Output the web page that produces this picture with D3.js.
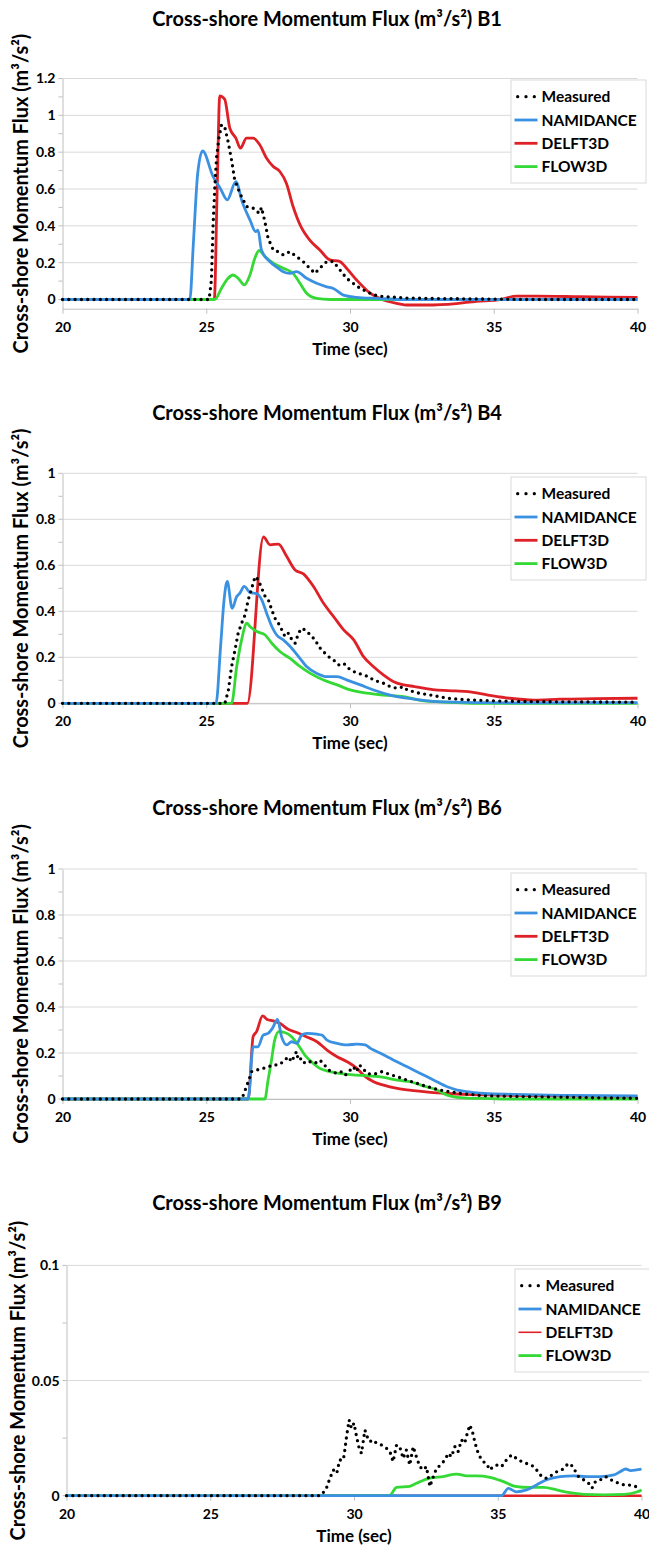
<!DOCTYPE html>
<html>
<head>
<meta charset="utf-8">
<script src="https://cdn.jsdelivr.net/npm/d3@7"></script>
<style>
  body { margin: 0; background: #fff; }
  svg { display: block; }
  text { font-family: Lato, "Open Sans", sans-serif; font-weight: 700; fill: #000; }
</style>
</head>
<body>
<svg id="chart" width="649" height="1548"></svg>
<script>
// ---- labels ----
const seriesNames = ["Measured", "NAMIDANCE", "DELFT3D", "FLOW3D"];
const stations = ["B1", "B4", "B6", "B9"];
const timeTicks = [20, 25, 30, 35, 40];
const fluxTicksB1 = [0, 0.2, 0.4, 0.6, 0.8, 1, 1.2];
const fluxTicksB4 = [0, 0.2, 0.4, 0.6, 0.8, 1];
const fluxTicksB6 = [0, 0.2, 0.4, 0.6, 0.8, 1];
const fluxTicksB9 = [0, 0.05, 0.1];

// ---- B1: [time (s), flux (m3/s2)] ----
const b1Measured = [[20,0],[25.1,0],[25.18,0.106],[25.24,0.414],[25.3,0.612],[25.36,0.776],[25.44,0.876],[25.53,0.948],[25.64,0.939],[25.76,0.857],[25.88,0.758],[25.99,0.649],[26.17,0.577],[26.4,0.505],[26.63,0.496],[26.75,0.478],[26.86,0.469],[26.92,0.5],[27.04,0.423],[27.15,0.333],[27.33,0.269],[27.5,0.26],[27.68,0.242],[27.91,0.26],[28.14,0.233],[28.37,0.206],[28.6,0.17],[28.78,0.142],[28.95,0.17],[29.19,0.206],[29.42,0.206],[29.65,0.161],[29.88,0.115],[30.11,0.088],[30.35,0.061],[30.58,0.043],[30.81,0.025],[31.16,0.016],[31.62,0.012],[31.95,0.008],[33,0.005],[35,0.002],[36,0],[40,0]];
const b1Namidance = [[20,0],[24.43,0],[24.55,0.3],[24.7,0.68],[24.87,0.807],[25.24,0.667],[25.5,0.6],[25.73,0.541],[26.03,0.64],[26.25,0.53],[26.52,0.432],[26.72,0.368],[26.8,0.377],[26.92,0.269],[27.21,0.206],[27.5,0.17],[27.68,0.151],[27.91,0.142],[28.14,0.151],[28.49,0.115],[28.84,0.088],[29.19,0.069],[29.42,0.06],[29.77,0.024],[30.23,0.012],[30.93,0.006],[31.85,0],[40,0]];
const b1Delft3d = [[20,0],[25.28,0],[25.38,0.6],[25.47,1.106],[25.64,1.088],[25.82,0.93],[26.03,0.876],[26.19,0.822],[26.4,0.876],[26.63,0.876],[26.86,0.84],[27.1,0.767],[27.33,0.722],[27.56,0.695],[27.79,0.63],[28.02,0.505],[28.32,0.387],[28.6,0.323],[28.95,0.269],[29.3,0.215],[29.65,0.206],[29.88,0.17],[30.23,0.106],[30.7,0.034],[31.16,-0.003],[31.63,-0.021],[32.03,-0.03],[32.67,-0.03],[33.7,-0.022],[34.4,-0.01],[35.1,-0.004],[35.8,0.018],[36.5,0.018],[38,0.015],[40,0.011]];
const b1Flow3d = [[20,0],[25.3,0],[25.53,0.061],[25.76,0.115],[25.93,0.133],[26.11,0.115],[26.32,0.079],[26.52,0.133],[26.69,0.224],[26.84,0.266],[27.04,0.233],[27.33,0.197],[27.68,0.17],[28.02,0.142],[28.26,0.088],[28.49,0.034],[28.84,0.006],[29.3,0],[40,0]];

// ---- B4 ----
const b4Measured = [[20,0],[25.65,0],[25.77,0.058],[25.88,0.159],[26.0,0.232],[26.11,0.305],[26.23,0.348],[26.35,0.384],[26.46,0.45],[26.58,0.5],[26.7,0.551],[26.81,0.537],[26.93,0.5],[27.05,0.464],[27.16,0.45],[27.28,0.406],[27.39,0.37],[27.51,0.348],[27.63,0.319],[27.74,0.29],[27.86,0.305],[27.98,0.276],[28.09,0.261],[28.21,0.305],[28.32,0.326],[28.44,0.319],[28.56,0.305],[28.67,0.29],[28.79,0.276],[28.91,0.247],[29.08,0.224],[29.25,0.203],[29.43,0.188],[29.6,0.167],[29.78,0.174],[29.95,0.152],[30.13,0.138],[30.3,0.13],[30.47,0.123],[30.65,0.116],[30.82,0.101],[31.0,0.094],[31.17,0.087],[31.41,0.072],[31.64,0.065],[31.87,0.072],[31.99,0.058],[32.4,0.044],[32.8,0.036],[33.4,0.022],[34.1,0.015],[35.1,0.01],[36.5,0.007],[40,0.005]];
const b4Namidance = [[20,0],[25.34,0],[25.5,0.25],[25.62,0.45],[25.73,0.53],[25.9,0.413],[26.06,0.464],[26.17,0.479],[26.32,0.508],[26.52,0.482],[26.76,0.476],[26.93,0.45],[27.1,0.392],[27.28,0.334],[27.45,0.297],[27.68,0.276],[27.92,0.247],[28.21,0.203],[28.5,0.159],[28.85,0.13],[29.2,0.116],[29.55,0.116],[29.9,0.101],[30.36,0.08],[30.82,0.058],[31.4,0.036],[31.99,0.022],[33,0.007],[34.4,0.003],[36,0.002],[40,0.003]];
const b4Delft3d = [[20,0],[26.43,0],[26.99,0.723],[27.22,0.689],[27.51,0.692],[27.8,0.638],[28.09,0.58],[28.38,0.563],[28.73,0.508],[29.08,0.435],[29.43,0.377],[29.78,0.319],[30.13,0.276],[30.47,0.203],[30.82,0.159],[31.17,0.123],[31.52,0.094],[31.87,0.08],[32.24,0.073],[32.96,0.058],[33.68,0.054],[34.1,0.051],[34.8,0.036],[35.55,0.022],[36.4,0.014],[37.3,0.018],[38.5,0.02],[40,0.022]];
const b4Flow3d = [[20,0],[25.88,0],[26.06,0.16],[26.23,0.276],[26.41,0.348],[26.52,0.334],[26.76,0.312],[27.05,0.297],[27.28,0.261],[27.57,0.224],[27.92,0.195],[28.27,0.159],[28.62,0.13],[29.08,0.101],[29.55,0.08],[30.01,0.058],[30.59,0.044],[31.17,0.036],[31.87,0.029],[32.5,0.012],[33,0.007],[33.7,0.003],[34.5,0],[40,0]];

// ---- B6 ----
const b6Measured = [[20,0],[26.2,0],[26.29,0.017],[26.46,0.075],[26.58,0.119],[26.75,0.126],[26.98,0.133],[27.15,0.14],[27.33,0.148],[27.5,0.148],[27.68,0.162],[27.85,0.184],[27.97,0.162],[28.08,0.191],[28.14,0.206],[28.2,0.169],[28.32,0.177],[28.43,0.155],[28.61,0.162],[28.78,0.155],[28.95,0.169],[29.07,0.155],[29.25,0.126],[29.37,0.119],[29.55,0.111],[29.72,0.119],[29.84,0.104],[30.01,0.126],[30.12,0.14],[30.22,0.119],[30.33,0.148],[30.45,0.133],[30.59,0.111],[30.76,0.108],[30.94,0.111],[31.11,0.119],[31.29,0.111],[31.46,0.104],[31.64,0.097],[31.81,0.09],[31.99,0.082],[32.16,0.075],[32.34,0.068],[32.57,0.058],[32.8,0.05],[33.03,0.042],[33.26,0.036],[33.55,0.03],[33.84,0.024],[34.2,0.02],[34.66,0.014],[35.12,0.013],[36.28,0.01],[37.44,0.008],[38.6,0.005],[40,0.003]];
const b6Namidance = [[20,0],[26.46,0],[26.63,0.227],[26.8,0.227],[26.98,0.278],[27.15,0.285],[27.3,0.307],[27.48,0.346],[27.62,0.271],[27.8,0.235],[27.97,0.249],[28.15,0.242],[28.32,0.278],[28.5,0.285],[28.85,0.282],[29.02,0.278],[29.2,0.256],[29.55,0.242],[29.9,0.235],[30.24,0.239],[30.53,0.235],[30.71,0.22],[31.06,0.199],[31.52,0.169],[31.99,0.14],[32.45,0.111],[32.92,0.082],[33.38,0.053],[33.73,0.039],[34.08,0.032],[34.66,0.024],[35.7,0.02],[37.44,0.016],[40,0.013]];
const b6Delft3d = [[20,0],[26.46,0],[26.63,0.271],[26.75,0.293],[26.96,0.361],[27.12,0.346],[27.33,0.34],[27.56,0.329],[27.85,0.303],[28.15,0.289],[28.5,0.27],[28.85,0.249],[29.2,0.213],[29.55,0.184],[29.9,0.162],[30.24,0.133],[30.47,0.104],[30.82,0.075],[31.17,0.06],[31.64,0.046],[32.22,0.036],[32.8,0.029],[33.38,0.024],[33.96,0.02],[35.12,0.017],[37.44,0.013],[40,0.01]];
const b6Flow3d = [[20,0],[27.04,0],[27.15,0.082],[27.27,0.169],[27.38,0.256],[27.53,0.293],[27.73,0.289],[27.97,0.271],[28.2,0.235],[28.43,0.191],[28.66,0.162],[28.95,0.133],[29.3,0.119],[29.77,0.109],[30.24,0.104],[30.7,0.1],[31.17,0.094],[31.64,0.082],[32.1,0.075],[32.57,0.056],[33.03,0.039],[33.38,0.017],[33.73,0.007],[34.2,0.003],[34.9,0.002],[35.35,0],[40,0]];

// ---- B9 ----
const b9Measured = [[20,0],[28.82,0],[29.02,0.0025],[29.16,0.0075],[29.28,0.0112],[29.4,0.0097],[29.5,0.0155],[29.63,0.0155],[29.68,0.0198],[29.74,0.0256],[29.83,0.0329],[29.91,0.0293],[30.0,0.0315],[30.09,0.0256],[30.18,0.0206],[30.26,0.0184],[30.38,0.0285],[30.46,0.0256],[30.55,0.0235],[30.67,0.0242],[30.78,0.0228],[30.96,0.022],[31.13,0.0206],[31.25,0.0191],[31.36,0.0148],[31.48,0.022],[31.59,0.0213],[31.71,0.0162],[31.82,0.0198],[31.94,0.0133],[32.06,0.0213],[32.17,0.0169],[32.29,0.0126],[32.41,0.0112],[32.52,0.0126],[32.64,0.004],[32.76,0.0083],[32.87,0.0119],[33.01,0.0133],[33.16,0.0155],[33.28,0.0184],[33.39,0.0169],[33.51,0.0213],[33.62,0.0191],[33.74,0.0242],[33.85,0.0228],[33.94,0.0271],[34.03,0.0307],[34.12,0.0278],[34.2,0.0235],[34.28,0.0198],[34.38,0.0169],[34.49,0.0148],[34.61,0.014],[34.72,0.0112],[34.84,0.0126],[34.96,0.0133],[35.13,0.0126],[35.3,0.0155],[35.48,0.0177],[35.65,0.0162],[35.83,0.0148],[36.0,0.014],[36.18,0.0133],[36.35,0.0112],[36.53,0.0083],[36.7,0.0075],[36.88,0.009],[37.05,0.0104],[37.23,0.0112],[37.4,0.0133],[37.52,0.014],[37.64,0.0119],[37.81,0.0083],[37.99,0.0069],[38.16,0.0054],[38.28,0.0033],[38.4,0.0062],[38.57,0.0069],[38.75,0.0083],[38.86,0.0075],[39.04,0.0062],[39.21,0.0054],[39.39,0.0047],[39.56,0.0047],[39.74,0.004],[39.97,0.004]];
const b9Namidance = [[20,0],[35.13,0],[35.37,0.0032],[35.65,0.0017],[36.0,0.0025],[36.35,0.0047],[36.7,0.0069],[37.17,0.0083],[37.64,0.0086],[38.1,0.0083],[38.57,0.0083],[39.04,0.009],[39.27,0.0105],[39.45,0.0116],[39.62,0.0109],[40,0.0115]];
const b9Delft3d = [[20,0],[40,0]];
const b9Flow3d = [[20,0],[31.23,0],[31.48,0.0036],[31.94,0.0041],[32.17,0.0054],[32.64,0.0076],[33.1,0.0083],[33.57,0.0094],[33.92,0.0086],[34.27,0.0086],[34.73,0.008],[35.2,0.0061],[35.6,0.0041],[36.1,0.0036],[36.6,0.0036],[37.05,0.0025],[37.5,0.0013],[38.0,0.0006],[38.7,0.0004],[39.4,0.0006],[39.86,0.0017],[40,0.0025]];

// ---- appearance ----
const colors = { Measured: "#000", NAMIDANCE: "#3a91e1", DELFT3D: "#de2127", FLOW3D: "#35d935" };
const gridColor = "#d9d9d9";
const axisColor = "#bfbfbf";

const panels = [
  { station: stations[0], yDomain: [-0.05, 1.2], yRange: [308.7, 78.5], xRange: [62.5, 637.5], yTicks: fluxTicksB1, minorStep: 0.1,
    titleY: 19, yLabelX: 21, legend: [511, 80], delftWidth: 2.8, delftLegendWidth: 2.8,
    data: { Measured: b1Measured, NAMIDANCE: b1Namidance, DELFT3D: b1Delft3d, FLOW3D: b1Flow3d } },
  { station: stations[1], yDomain: [0, 1], yRange: [703.3, 473.3], xRange: [62.5, 637.5], yTicks: fluxTicksB4, minorStep: 0.1,
    titleY: 413.3, yLabelX: 21, legend: [511, 477], delftWidth: 2.8, delftLegendWidth: 2.8,
    data: { Measured: b4Measured, NAMIDANCE: b4Namidance, DELFT3D: b4Delft3d, FLOW3D: b4Flow3d } },
  { station: stations[2], yDomain: [0, 1], yRange: [1099, 869], xRange: [62.5, 637.5], yTicks: fluxTicksB6, minorStep: 0.1,
    titleY: 808.3, yLabelX: 21, legend: [511, 873], delftWidth: 2.8, delftLegendWidth: 2.8,
    data: { Measured: b6Measured, NAMIDANCE: b6Namidance, DELFT3D: b6Delft3d, FLOW3D: b6Flow3d } },
  { station: stations[3], yDomain: [0, 0.1], yRange: [1495.7, 1265.4], xRange: [66.5, 641.5], yTicks: fluxTicksB9, minorStep: 0.025,
    titleY: 1203.3, yLabelX: 18, legend: [515, 1269], delftWidth: 2.4, delftLegendWidth: 1.6,
    data: { Measured: b9Measured, NAMIDANCE: b9Namidance, DELFT3D: b9Delft3d, FLOW3D: b9Flow3d } }
];

const svg = d3.select("#chart");
const fmt = d3.format("~g");
const drawOrder = ["DELFT3D", "FLOW3D", "NAMIDANCE", "Measured"];

// font size that makes a string span a given width
function fitSize(str, targetWidth, base) {
  const t = svg.append("text").style("font-size", base + "px").text(str);
  const w = t.node().getComputedTextLength();
  t.remove();
  return base * targetWidth / w;
}
const titleSize = fitSize("Cross-shore Momentum Flux (m³/s²) B1", 350, 18);
const yLabelSize = fitSize("Cross-shore Momentum Flux (m³/s²)", 320, 18);

panels.forEach(p => {
  const g = svg.append("g");
  const x = d3.scaleLinear().domain([20, 40]).range(p.xRange);
  const y = d3.scaleLinear().domain(p.yDomain).range(p.yRange);
  const x0 = p.xRange[0], x1 = p.xRange[1];
  const yBottom = p.yRange[0], yTop = p.yRange[1];

  // horizontal gridlines
  g.append("g").selectAll("line").data(p.yTicks).join("line")
    .attr("x1", x0).attr("x2", x1)
    .attr("y1", d => y(d)).attr("y2", d => y(d))
    .attr("stroke", gridColor).attr("stroke-width", 1);

  // y axis with labels
  const yAxis = g.append("g").attr("transform", `translate(${x0},0)`)
    .call(d3.axisLeft(y).tickValues(p.yTicks).tickFormat(fmt).tickSize(0).tickSizeOuter(0).tickPadding(7));
  yAxis.select(".domain").attr("stroke", axisColor);
  yAxis.selectAll("text").style("font-size", "14px").style("font-family", "Lato").style("font-weight", 700).attr("fill", "#000");

  // small tick marks along the y axis
  const minor = d3.range(0, p.yDomain[1] + 1e-9, p.minorStep);
  g.append("g").selectAll("line").data(minor).join("line")
    .attr("x1", x0 - 4).attr("x2", x0)
    .attr("y1", d => y(d)).attr("y2", d => y(d))
    .attr("stroke", axisColor).attr("stroke-width", 1);

  // x axis
  const xAxis = g.append("g").attr("transform", `translate(0,${yBottom})`)
    .call(d3.axisBottom(x).tickValues(timeTicks).tickSize(5).tickSizeOuter(0).tickPadding(8));
  xAxis.select(".domain").attr("stroke", axisColor);
  xAxis.selectAll(".tick line").attr("stroke", axisColor);
  xAxis.selectAll("text").style("font-size", "14px").style("font-family", "Lato").style("font-weight", 700).attr("fill", "#000");

  // series
  drawOrder.forEach(name => {
    const line = d3.line().x(d => x(d[0])).y(d => y(d[1]))
      .curve(name === "Measured" ? d3.curveLinear : d3.curveMonotoneX);
    const path = g.append("path").datum(p.data[name])
      .attr("d", line).attr("fill", "none")
      .attr("stroke", colors[name])
      .attr("stroke-linejoin", "round");
    if (name === "Measured") {
      path.attr("stroke-width", 3.3).attr("stroke-linecap", "round").attr("stroke-dasharray", "0 6.3");
    } else {
      path.attr("stroke-width", name === "DELFT3D" ? p.delftWidth : 2.8);
    }
  });

  // chart title
  g.append("text")
    .attr("x", 327).attr("y", p.titleY + titleSize * 0.36)
    .attr("text-anchor", "middle").style("font-size", titleSize + "px")
    .text(`Cross-shore Momentum Flux (m³/s²) ${p.station}`);

  // axis titles
  g.append("text")
    .attr("x", (x0 + x1) / 2).attr("y", yBottom + 40 + 6)
    .attr("text-anchor", "middle").style("font-size", "17px")
    .text("Time (sec)");
  const yMid = (yBottom + yTop) / 2;
  g.append("text")
    .attr("transform", `translate(${p.yLabelX + yLabelSize * 0.36},${yMid}) rotate(-90)`)
    .attr("text-anchor", "middle").style("font-size", yLabelSize + "px")
    .text("Cross-shore Momentum Flux (m³/s²)");

  // legend
  const [lx, ly] = p.legend;
  const lg = g.append("g").attr("transform", `translate(${lx},${ly})`);
  lg.append("rect").attr("width", 135).attr("height", 103)
    .attr("fill", "#fff").attr("stroke", gridColor).attr("stroke-width", 1);
  seriesNames.forEach((name, i) => {
    const ry = 16.7 + i * 23.3;
    const sample = lg.append("line")
      .attr("y1", ry).attr("y2", ry).attr("stroke", colors[name]);
    if (name === "Measured") {
      sample.attr("x1", 6.7).attr("x2", 23.4).attr("stroke-width", 3.3)
        .attr("stroke-linecap", "round").attr("stroke-dasharray", "0 8.3");
    } else {
      sample.attr("x1", 3.5).attr("x2", 26.5)
        .attr("stroke-width", name === "DELFT3D" ? p.delftLegendWidth : 2.8);
    }
    lg.append("text").attr("x", 30.5).attr("y", ry + 5.5)
      .style("font-size", "15.5px").text(name);
  });
});
</script>
</body>
</html>
